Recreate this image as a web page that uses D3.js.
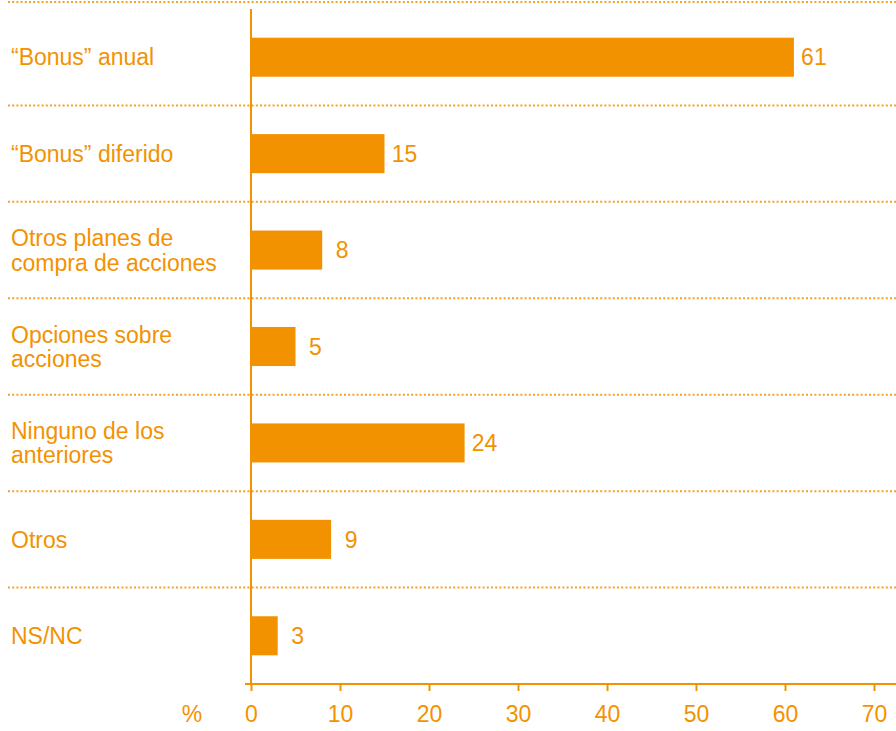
<!DOCTYPE html>
<html lang="es">
<head>
<meta charset="utf-8">
<script src="https://cdn.jsdelivr.net/npm/d3@7"></script>
<style>
  html, body { margin: 0; padding: 0; background: #ffffff; }
  svg { display: block; }
  text { font-family: "Liberation Sans", Arial, Helvetica, sans-serif; fill: #f39200; }
</style>
</head>
<body>
<svg id="chart" width="896" height="731"></svg>
<script>
// Categories (each entry is the list of lines of its label)
const categories = [
  ["\u201cBonus\u201d anual"],
  ["\u201cBonus\u201d diferido"],
  ["Otros planes de", "compra de acciones"],
  ["Opciones sobre", "acciones"],
  ["Ninguno de los", "anteriores"],
  ["Otros"],
  ["NS/NC"]
];
// Percentage for each category
const values = [61, 15, 8, 5, 24, 9, 3];
// Tick values on the percentage axis
const ticks = [0, 10, 20, 30, 40, 50, 60, 70];
const unitLabel = "%";

const orange = "#f39200";
const fontSize = 23;

const svg = d3.select("#chart");
const W = 896;

const keys = categories.map((c, i) => i);

const x = d3.scaleLinear().domain([0, 70]).range([251, 874]);
const y = d3.scaleBand().domain(keys).range([9, 684])
  .paddingInner(0.595).paddingOuter(0.2975);

const step = y.step();

// Dotted row separators: frame line on top, then one between each pair of rows
const seps = [y.range()[0] - 7].concat(keys.slice(1).map(k => y(k) - (step - y.bandwidth()) / 2));
svg.append("g").selectAll("line").data(seps).join("line")
  .attr("x1", 8).attr("x2", W)
  .attr("y1", d => d).attr("y2", d => d)
  .attr("stroke", orange).attr("stroke-width", 2)
  .attr("stroke-dasharray", "2,2.2")
  .attr("opacity", 0.85);

// Bars
svg.append("g").selectAll("rect").data(keys).join("rect")
  .attr("x", x(0))
  .attr("y", k => y(k))
  .attr("width", k => x(values[k]) - x(0))
  .attr("height", y.bandwidth())
  .attr("fill", orange);

// Value labels
svg.append("g").selectAll("text").data(keys).join("text")
  .attr("x", k => x(values[k]) + 20)
  .attr("y", k => y(k) + y.bandwidth() / 2)
  .attr("dy", "0.36em")
  .attr("text-anchor", "middle")
  .style("font-size", fontSize + "px")
  .text(k => values[k]);

// Category labels
const lineH = 24.5;
const cat = svg.append("g").selectAll("text").data(keys).join("text")
  .attr("x", 11)
  .attr("y", k => y(k) + y.bandwidth() / 2 - (categories[k].length - 1) * lineH / 2)
  .style("font-size", fontSize + "px");
cat.selectAll("tspan").data(k => categories[k]).join("tspan")
  .attr("x", 11)
  .attr("dy", (d, i) => i === 0 ? "0.36em" : lineH)
  .text(d => d);

// Vertical axis line
svg.append("line")
  .attr("x1", x(0)).attr("x2", x(0))
  .attr("y1", y.range()[0]).attr("y2", y.range()[1])
  .attr("stroke", orange).attr("stroke-width", 2);

// Horizontal axis
const axisY = y.range()[1];
const gx = svg.append("g").attr("transform", `translate(0,${axisY})`)
  .call(d3.axisBottom(x).tickValues(ticks).tickSize(7).tickPadding(15).tickFormat(d3.format("d")));
gx.select(".domain").remove();
gx.selectAll(".tick line").attr("stroke", orange).attr("stroke-width", 2);
gx.selectAll(".tick text")
  .attr("fill", orange)
  .style("font-size", fontSize + "px")
  .style("font-family", "'Liberation Sans', Arial, Helvetica, sans-serif");
gx.append("line")
  .attr("x1", x(0) - 6).attr("x2", W)
  .attr("y1", 0).attr("y2", 0)
  .attr("stroke", orange).attr("stroke-width", 2);

// Unit label
svg.append("text")
  .attr("x", 192).attr("y", 722)
  .attr("text-anchor", "middle")
  .style("font-size", fontSize + "px")
  .text(unitLabel);
</script>
</body>
</html>
